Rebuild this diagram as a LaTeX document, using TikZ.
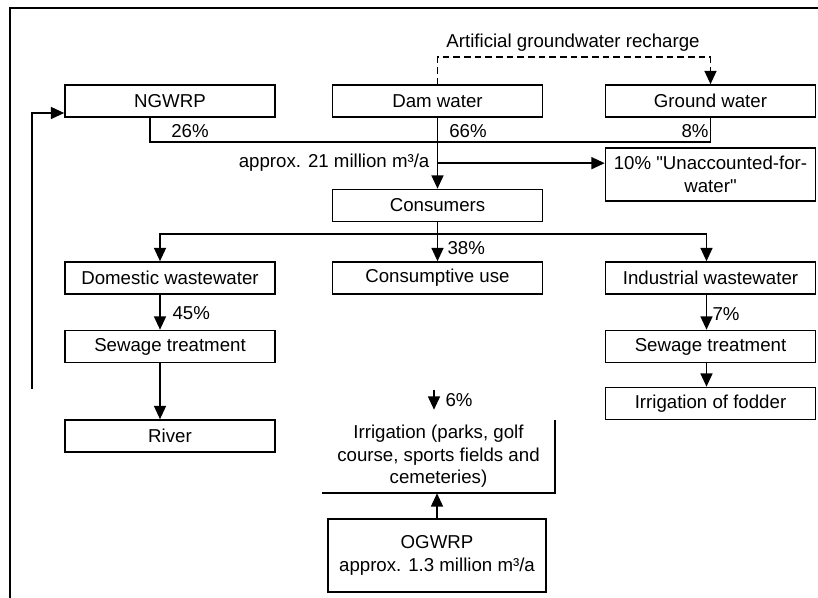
\documentclass[tikz,border=0pt]{standalone}
\usepackage{fontspec}
\setmainfont{Liberation Sans}
\usepackage{tikz}
\usetikzlibrary{arrows.meta,positioning,calc}

\begin{document}
\begin{tikzpicture}[x=0.75pt, y=-0.75pt,
    flowbox/.style={rectangle, draw, line width=1.2pt, minimum width=157.5pt,
        minimum height=24pt, inner sep=2pt, font=\fontsize{14}{17}\selectfont},
    lbl/.style={font=\fontsize{14}{17}\selectfont, inner sep=1pt},
    arr/.style={-{Triangle[length=10pt, width=9pt]}, line width=1.2pt}
]
    \useasboundingbox (0,0) rectangle (818,598);
    \draw[line width=1.3pt] (10,598) |- (818,8);

    % sources
    \node[flowbox] (ngwrp) at (170,101) {NGWRP};
    \node[flowbox] (dam) at (437.5,101) {Dam water};
    \node[flowbox] (gw) at (710.5,101) {Ground water};

    \draw[arr, dash pattern=on 5pt off 3pt] (dam.north) -- ++(0,-27) -| (gw.north);
    \node[lbl] at (573,43) {Artificial groundwater recharge};

    \draw[line width=1.2pt] ([xshift=-15pt]ngwrp.south) -- ++(0,24) -| (gw.south);
    \node[lbl] at (190,131) {26\%};
    \node[lbl] at (468,131) {66\%};
    \node[lbl] at (695,131) {8\%};

    % consumers
    \node[flowbox, minimum height=39.75pt, align=center] (unacc) at (710.5,174.5)
        {10\% \textquotedbl Unaccounted-for-\\water\textquotedbl};
    \node[flowbox] (cons) at (437.5,205.5) {Consumers};
    \draw[arr] (dam) -- (cons);
    \draw[arr] ([yshift=8.5pt]unacc.west -| dam.south) -- ([yshift=8.5pt]unacc.west);
    \node[lbl, anchor=east] at (431,163) {approx. 21 million m³/a};

    \node[flowbox] (dom) at (170,278) {Domestic wastewater};
    \node[flowbox] (use) at (437.5,278) {Consumptive use};
    \node[flowbox] (ind) at (710.5,278) {Industrial wastewater};

    \draw[line width=1.2pt] (cons.south) -- ++(0,12) coordinate (dist);
    \draw[arr] (dist) -- (use.north);
    \draw[arr] (dist) -| ([xshift=-7.5pt]dom.north);
    \draw[arr] (dist) -| ([xshift=-3pt]ind.north);
    \node[lbl, anchor=west] at (446,248) {38\%};

    % wastewater
    \node[flowbox] (sewl) at (170,346.5) {Sewage treatment};
    \node[flowbox] (river) at (170,436) {River};
    \draw[arr] ([xshift=-7.5pt]dom.south) -- ([xshift=-7.5pt]sewl.north);
    \draw[arr] ([xshift=-7.5pt]sewl.south) -- ([xshift=-7.5pt]river.north);
    \node[lbl, anchor=west] at (171,313) {45\%};

    \coordinate (back) at (32,389);
    \draw[arr] (back) |- ([yshift=-9pt]ngwrp.west);

    \node[flowbox] (sewr) at (710.5,346.5) {Sewage treatment};
    \node[flowbox] (fodder) at (710.5,403.5) {Irrigation of fodder};
    \draw[arr] ([xshift=-3pt]ind.south) -- ([xshift=-3pt]sewr.north);
    \draw[arr] ([xshift=-3pt]sewr.south) -- ([xshift=-3pt]fodder.north);
    \node[lbl, anchor=west] at (711,314) {7\%};

    % irrigation
    \node[lbl, minimum width=174.75pt, minimum height=54.75pt, align=center,
        inner sep=0pt] (irr) at (438.5,456.5)
        {Irrigation (parks, golf\\course, sports fields and\\cemeteries)};
    \draw[line width=1.2pt] (irr.north east) -- (irr.south east) -- (irr.south west);
    \coordinate (six) at (434,390);
    \draw[arr] (six) -- ([yshift=7.5pt]irr.north -| six);
    \node[lbl, anchor=west] at (444,400) {6\%};

    \node[flowbox, minimum width=163.5pt, minimum height=54.75pt, align=center]
        (ogwrp) at (437,555.5) {OGWRP\\approx. 1.3 million m³/a};
    \draw[arr] (ogwrp.north) -- (ogwrp.north |- irr.south);
\end{tikzpicture}
\end{document}
